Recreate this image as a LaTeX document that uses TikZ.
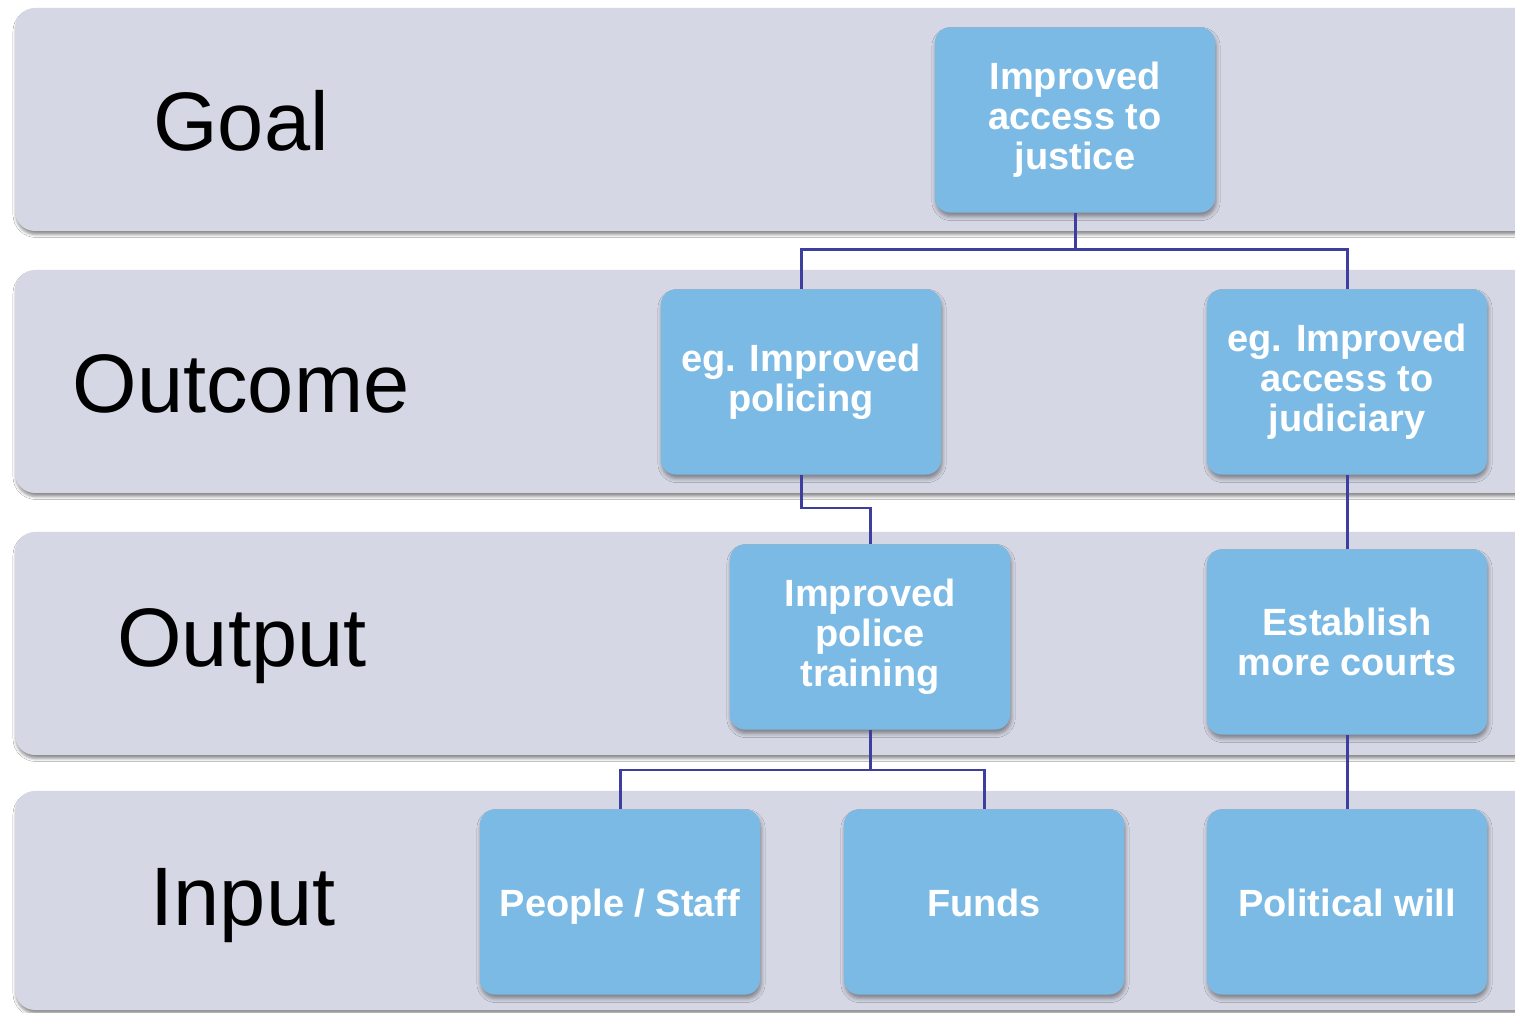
\documentclass[tikz,border=0pt]{standalone}
\usepackage{fontspec}
\setmainfont{Liberation Sans}
\usetikzlibrary{shadows.blur}
\definecolor{bandcol}{RGB}{213,215,228}
\definecolor{boxcol}{RGB}{123,186,228}
\definecolor{linecol}{RGB}{62,62,158}
\begin{document}
\begin{tikzpicture}[x=0.01cm,y=-0.01cm,
  band/.style={fill=bandcol, rounded corners=0.2cm,
    blur shadow={shadow xshift=0.01cm, shadow yshift=-0.035cm, shadow blur radius=0.03cm, shadow opacity=45}},
  box/.style={fill=boxcol, rounded corners=0.15cm, minimum width=2.8cm, minimum height=1.85cm,
    align=center, inner sep=0pt, text=white,
    font=\fontsize{10.8}{11.4}\selectfont\bfseries,
    blur shadow={shadow xshift=0.01cm, shadow yshift=-0.04cm, shadow blur radius=0.04cm, shadow opacity=40}},
  onebox/.style={box, text height=9.5pt, text depth=1pt},
  lbl/.style={font=\fontsize{23.6}{28}\selectfont, text=black},
  conn/.style={draw=linecol, line width=0.85pt}]
\clip (0,0) rectangle (1515,1013);
\fill[white] (0,0) rectangle (1515,1013);
% bands
\path[band] (15,8) rectangle (1540,231);
\path[band] (15,270) rectangle (1540,493);
\path[band] (15,532) rectangle (1540,755);
\path[band] (15,791) rectangle (1540,1010);
% labels
\node[lbl] (lgoal) at (241,121) {Goal};
\node[lbl] (loutcome) at (241,384) {Outcome};
\node[lbl] (loutput) at (242,646) {Output};
\node[lbl] (linput) at (243,906) {Input};
% connector joints
\coordinate (j1) at (1075,250);
\coordinate (j2) at (801,508);
\coordinate (j3) at (870,770);
% boxes
\node[box] (goal) at (1075,120) {Improved\\access to\\justice};
\node[box] (oc1) at (801,382) {eg. Improved\\policing};
\node[box] (oc2) at (1347,382) {eg. Improved\\access to\\judiciary};
\node[box] (op1) at (870,637) {Improved\\police\\training};
\node[box] (op2) at (1347,642) {Establish\\more courts};
\node[onebox] (in1) at (620,902) {People / Staff};
\node[onebox] (in2) at (984,902) {Funds};
\node[onebox] (in3) at (1347,902) {Political will};
\draw[conn] (goal.south) -- (j1) -| (oc1.north);
\draw[conn] (j1) -| (oc2.north);
\draw[conn] (oc1.south) -- (j2) -| (op1.north);
\draw[conn] (oc2.south) -- (op2.north);
\draw[conn] (op1.south) -- (j3) -| (in1.north);
\draw[conn] (j3) -| (in2.north);
\draw[conn] (op2.south) -- (in3.north);
\end{tikzpicture}
\end{document}
